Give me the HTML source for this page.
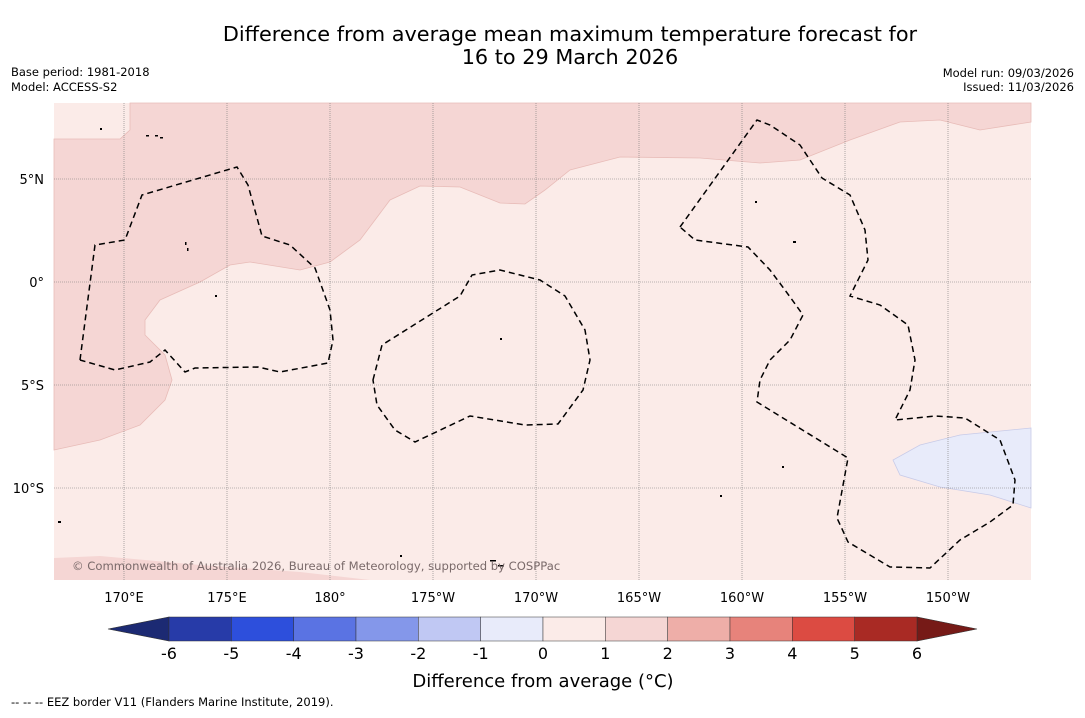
<!DOCTYPE html>
<html><head><meta charset="utf-8"><style>
body{margin:0;background:#fff;font-family:"Liberation Sans","DejaVu Sans",sans-serif}
svg text{font-family:"DejaVu Sans","Liberation Sans",sans-serif}
</style></head><body>
<svg width="1085" height="713" viewBox="0 0 1085 713">
<text x="570" y="41" text-anchor="middle" font-size="20.8">Difference from average mean maximum temperature forecast for</text>
<text x="570" y="64" text-anchor="middle" font-size="20.8">16 to 29 March 2026</text>
<text x="11" y="76" font-size="11.5">Base period: 1981-2018</text>
<text x="11" y="91" font-size="11.5">Model: ACCESS-S2</text>
<text x="1074" y="77" font-size="11.5" text-anchor="end">Model run: 09/03/2026</text>
<text x="1074" y="91" font-size="11.5" text-anchor="end">Issued: 11/03/2026</text>
<g>
<rect x="54" y="103" width="977" height="477" fill="#fbebe8"/>
<path d="M54,450 L100,440 L140,425 L165,400 L172,380 L165,355 L145,335 L145,320 L160,300 L200,282 L230,265 L250,262 L300,270 L330,262 L360,240 L390,200 L420,186 L460,187 L500,203 L525,204 L545,190 L570,170 L620,157 L700,158 L760,163 L800,160 L850,140 L900,122 L940,120 L980,130 L1031,122 L1031,103 L130,103 L130,130 L120,139 L54,139 Z" fill="#f5d6d4" stroke="#e8bcb8" stroke-width="0.8"/>
<path d="M54,558 L100,556 L200,565 L300,572 L370,580 L54,580 Z" fill="#f5d6d4"/>
<path d="M1031,428 L960,435 L920,445 L893,460 L900,475 L940,487 L990,495 L1031,508 Z" fill="#e8ebfa" stroke="#c8cbe8" stroke-width="0.8"/>
<g stroke="#777" stroke-width="0.6" stroke-dasharray="1,1">
<line x1="124" y1="103" x2="124" y2="580"/><line x1="227" y1="103" x2="227" y2="580"/><line x1="330" y1="103" x2="330" y2="580"/><line x1="433" y1="103" x2="433" y2="580"/><line x1="536" y1="103" x2="536" y2="580"/><line x1="639" y1="103" x2="639" y2="580"/><line x1="742" y1="103" x2="742" y2="580"/><line x1="845" y1="103" x2="845" y2="580"/><line x1="948" y1="103" x2="948" y2="580"/>
<line x1="54" y1="179" x2="1031" y2="179"/><line x1="54" y1="282" x2="1031" y2="282"/><line x1="54" y1="385" x2="1031" y2="385"/><line x1="54" y1="488" x2="1031" y2="488"/>
</g>
<g fill="none" stroke="#000" stroke-width="1.5" stroke-dasharray="6,4">
<path d="M80,360 L95,245 L125,240 L142,195 L237,167 L248,185 L262,236 L290,245 L315,268 L330,310 L333,340 L328,363 L280,372 L258,367 L195,368 L185,372 L165,350 L150,362 L115,370 L80,360"/>
<path d="M373,380 L382,345 L460,296 L472,275 L500,270 L540,280 L565,296 L585,330 L590,360 L583,390 L558,424 L525,425 L470,416 L415,442 L395,430 L377,405 Z"/>
<path d="M680,227 L757,120 L770,125 L800,145 L822,178 L850,195 L865,230 L868,260 L850,296 L880,305 L908,325 L915,360 L910,390 L895,420 L935,416 L965,418 L1000,440 L1015,480 L1013,505 L990,522 L960,540 L930,568 L890,567 L848,542 L837,518 L848,458 L757,402 L760,380 L770,360 L790,340 L803,315 L785,290 L770,270 L748,247 L695,240 Z"/>
</g>
<g fill="#000">
<rect x="146" y="135" width="3" height="1.5"/><rect x="155" y="135" width="3" height="1.5"/><rect x="160" y="137" width="3" height="1.5"/><rect x="185" y="242" width="1.5" height="3"/><rect x="187" y="248" width="1.5" height="3"/><rect x="215" y="295" width="2" height="2"/><rect x="500" y="338" width="2" height="2"/><rect x="490" y="560" width="6" height="1.5"/><rect x="498" y="565" width="6" height="1.5"/><rect x="755" y="201" width="2" height="2"/><rect x="793" y="241" width="3" height="2"/><rect x="782" y="466" width="2" height="2"/><rect x="58" y="521" width="3" height="2"/><rect x="720" y="495" width="2" height="2"/><rect x="100" y="128" width="2" height="2"/><rect x="400" y="555" width="2" height="2"/>
</g>
<text x="72" y="570" font-size="11.6" fill="#7a6a6a">© Commonwealth of Australia 2026, Bureau of Meteorology, supported by COSPPac</text>
</g>
<g font-size="13">
<text x="44" y="184" text-anchor="end">5°N</text><text x="44" y="287" text-anchor="end">0°</text><text x="44" y="390" text-anchor="end">5°S</text><text x="44" y="493" text-anchor="end">10°S</text>
</g>
<g font-size="13" text-anchor="middle">
<text x="124" y="602">170°E</text><text x="227" y="602">175°E</text><text x="330" y="602">180°</text><text x="433" y="602">175°W</text><text x="536" y="602">170°W</text><text x="639" y="602">165°W</text><text x="742" y="602">160°W</text><text x="845" y="602">155°W</text><text x="948" y="602">150°W</text>
</g>
<g id="cbar">
<polygon points="108,629 169,617 169,641" fill="#1c2a73" stroke="#333" stroke-width="0.6"/>
<polygon points="977,629 917,617 917,641" fill="#761a17" stroke="#333" stroke-width="0.6"/>
</g>
<text x="543" y="687" text-anchor="middle" font-size="18">Difference from average (°C)</text>
<text x="11" y="706" font-size="11.5">--  --  -- EEZ border V11 (Flanders Marine Institute, 2019).</text>
</svg>
<script>
const binColors=["#273ba8","#2d4fdc","#5a73e3","#8497ea","#c0c8f3","#e8ebfa","#fbebe8","#f5d6d4","#eeaea8","#e7837b","#dc4b42","#a92a24"];
const tickLabels=["-6","-5","-4","-3","-2","-1","0","1","2","3","4","5","6"];
const ns="http://www.w3.org/2000/svg";
const g=document.getElementById('cbar');
const x0=169,x1=917,w=(x1-x0)/binColors.length;
binColors.forEach((c,i)=>{
  const r=document.createElementNS(ns,'rect');
  r.setAttribute('x',x0+i*w);r.setAttribute('y',617);r.setAttribute('width',w);r.setAttribute('height',24);
  r.setAttribute('fill',c);r.setAttribute('stroke','#333');r.setAttribute('stroke-width','0.5');
  
  
  g.appendChild(r);
});
tickLabels.forEach((t,i)=>{
  const tx=document.createElementNS(ns,'text');
  tx.setAttribute('x',x0+i*w);tx.setAttribute('y',659);tx.setAttribute('text-anchor','middle');tx.setAttribute('font-size','16');
  tx.textContent=t;
  
  
  g.appendChild(tx);
});
</script>
</body></html>
